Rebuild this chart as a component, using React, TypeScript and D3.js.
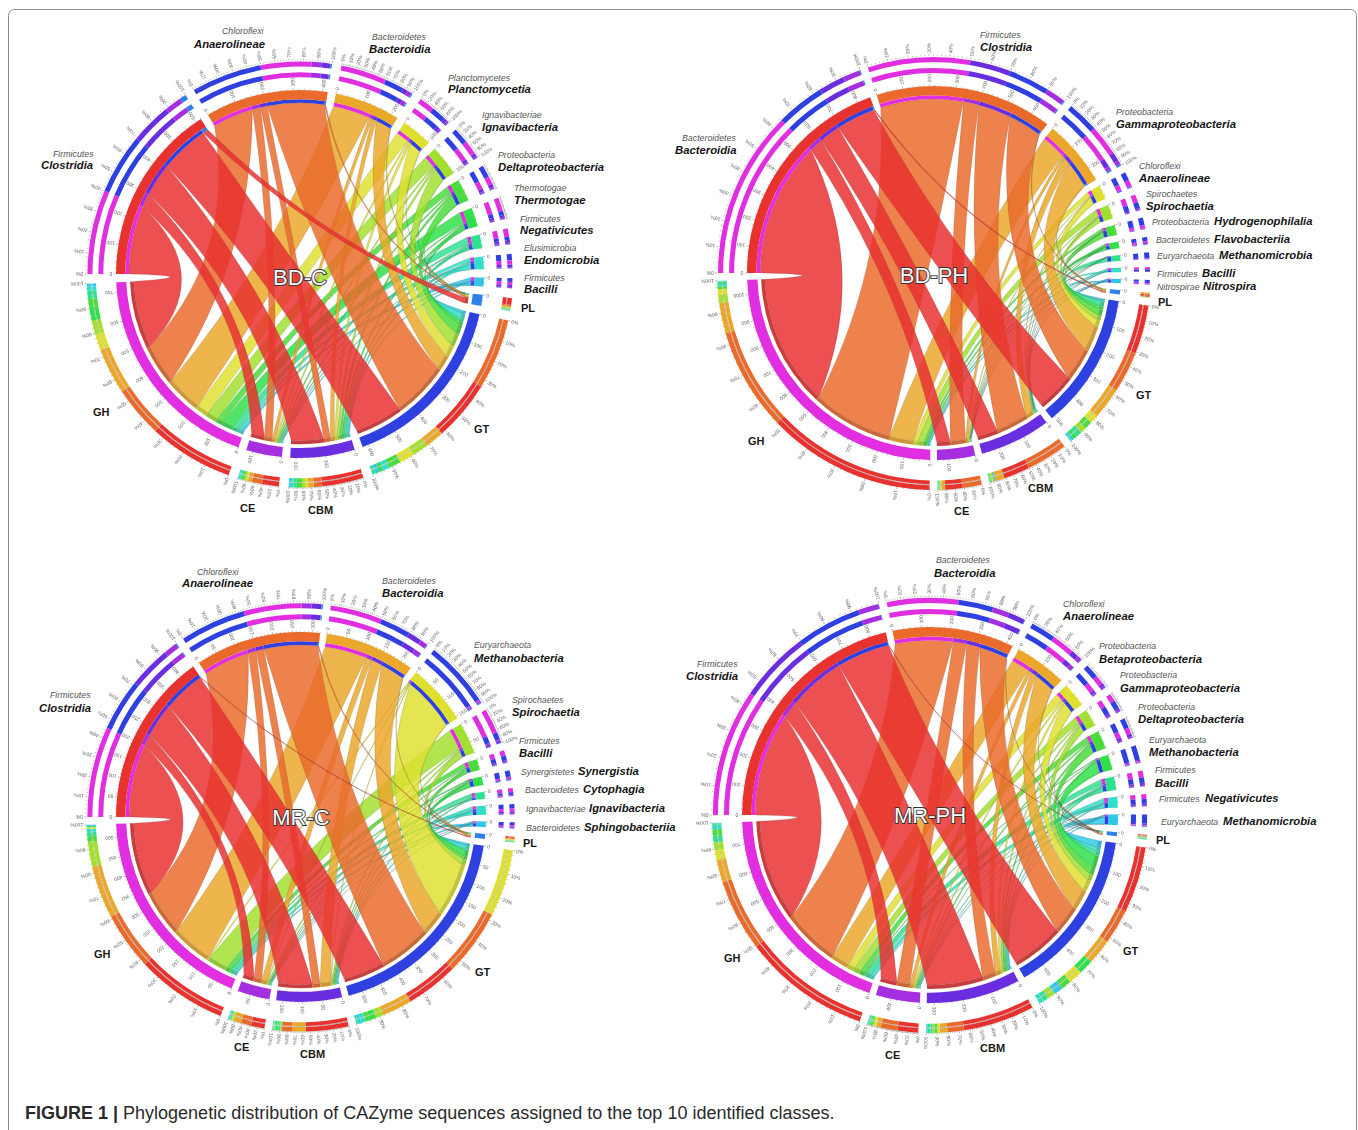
import React from "react";
import * as d3 from "d3";

const families = ["GH", "CE", "CBM", "GT", "PL"];
const palette = ["#e8302f","#e96a2b","#eba72a","#dfe02e","#a2e02e","#48dc3a","#2fe048","#2fe090","#2fe0c8","#2fc8e8","#2f80e8","#2f3fe0","#6a2fe0","#a52fe0","#e02fe0"];
const familyColorIndex = [14, 13, 12, 11, 10];

// BD-C
const bdcClasses = ["Clostridia","Anaerolineae","Bacteroidia","Planctomycetia","Ignavibacteria","Deltaproteobacteria","Thermotogae","Negativicutes","Endomicrobia","Bacilli"];
const bdcPhyla = ["Firmicutes","Chloroflexi","Bacteroidetes","Planctomycetes","Ignavibacteriae","Proteobacteria","Thermotogae","Firmicutes","Elusimicrobia","Firmicutes"];
const bdcMatrix = [[250,50,122,178,20],[150,30,25,208,5],[136,12,16,56,4],[46,6,9,44,2],[42,5,9,47,1],[24,5,9,36,2],[40,4,8,12,1],[24,4,8,10,1],[12,3,8,19,1],[9,3,6,11,1]];
// BD-PH
const bdpClasses = ["Bacteroidia","Clostridia","Gammaproteobacteria","Anaerolineae","Spirochaetia","Hydrogenophilalia","Flavobacteriia","Methanomicrobia","Bacilli","Nitrospira"];
const bdpPhyla = ["Bacteroidetes","Firmicutes","Proteobacteria","Chloroflexi","Spirochaetes","Proteobacteria","Bacteroidetes","Euryarchaeota","Firmicutes","Nitrospirae"];
const bdpMatrix = [[548,56,85,159,4],[336,63,134,134,4],[100,12,30,104,6],[18,3,3,28,1],[26,3,4,20,0],[9,2,2,25,0],[6,2,3,13,1],[2,1,1,18,0],[7,1,2,6,0],[3,1,5,7,0]];
// MR-C
const mrcClasses = ["Clostridia","Anaerolineae","Bacteroidia","Methanobacteria","Spirochaetia","Bacilli","Synergistia","Cytophagia","Ignavibacteria","Sphingobacteriia"];
const mrcPhyla = ["Firmicutes","Chloroflexi","Bacteroidetes","Euryarchaeota","Spirochaetes","Firmicutes","Synergistetes","Bacteroidetes","Ignavibacteriae","Bacteroidetes"];
const mrcMatrix = [[200,30,94,115,2],[127,22,22,146,3],[115,16,30,67,2],[3,2,2,147,2],[55,4,4,16,1],[12,2,3,10,1],[3,1,3,14,1],[9,2,3,4,0],[7,2,4,10,0],[3,1,2,7,1]];
// MR-PH
const mrpClasses = ["Clostridia","Bacteroidia","Anaerolineae","Betaproteobacteria","Gammaproteobacteria","Deltaproteobacteria","Methanobacteria","Bacilli","Negativicutes","Methanomicrobia"];
const mrpPhyla = ["Firmicutes","Bacteroidetes","Chloroflexi","Proteobacteria","Proteobacteria","Proteobacteria","Euryarchaeota","Firmicutes","Firmicutes","Euryarchaeota"];
const mrpMatrix = [[383,62,213,198,2],[215,50,50,105,2],[68,14,22,76,2],[28,6,8,42,1],[24,5,6,24,1],[19,5,8,30,1],[3,2,4,44,1],[20,4,6,16,1],[14,3,5,14,1],[2,2,4,27,2]];

// Layout of the labels, per panel: [phylum x, phylum y, class x, class y]
const bdcLabelPos = [[53,157,41,169],[222,34,194,48],[372,40,369,53],[448,81,448,93],[482,118,482,131],[498,158,498,171],[514,191,514,204],[520,222,520,234],[524,251,524,264],[524,281,524,293]];
const bdpLabelPos = [[682,141,675,154],[980,38,980,51],[1116,115,1116,128],[1139,169,1139,182],[1146,197,1146,210],[1152,225,1214,225],[1156,243,1214,243],[1157,259,1219,259],[1157,277,1202,277],[1157,290,1203,290]];
const mrcLabelPos = [[50,698,39,712],[197,575,182,587],[382,584,382,597],[474,648,474,662],[512,703,512,716],[519,744,519,757],[521,775,578,775],[525,793,583,793],[526,812,589,812],[526,831,584,831]];
const mrpLabelPos = [[697,667,686,680],[936,563,934,577],[1063,607,1063,620],[1099,649,1099,663],[1120,678,1120,692],[1138,710,1138,723],[1149,743,1149,756],[1155,773,1155,787],[1159,802,1205,802],[1161,825,1223,825]];
// GH, CE, CBM, GT, PL label anchors
const bdcFamPos = [[93,416],[240,512],[308,514],[474,433],[521,312]];
const bdpFamPos = [[748,445],[954,515],[1028,492],[1136,399],[1158,306]];
const mrcFamPos = [[94,958],[234,1051],[300,1058],[475,976],[523,847]];
const mrpFamPos = [[724,962],[885,1059],[980,1052],[1123,955],[1156,844]];

const panels = [
  { name:"BD-C", cx:300, cy:274, R:184, gap:2.6, step:100, textY:285, classes:bdcClasses, phyla:bdcPhyla, matrix:bdcMatrix, pos:bdcLabelPos, famPos:bdcFamPos },
  { name:"BD-PH", cx:934, cy:273, R:187, gap:2.1, step:100, textY:283, classes:bdpClasses, phyla:bdpPhyla, matrix:bdpMatrix, pos:bdpLabelPos, famPos:bdpFamPos },
  { name:"MR-C", cx:301, cy:817, R:185, gap:2.1, step:50, textY:825, classes:mrcClasses, phyla:mrcPhyla, matrix:mrcMatrix, pos:mrcLabelPos, famPos:mrcFamPos },
  { name:"MR-PH", cx:930, cy:815, R:188, gap:2.1, step:100, textY:823, classes:mrpClasses, phyla:mrpPhyla, matrix:mrpMatrix, pos:mrpLabelPos, famPos:mrpFamPos },
];

const rad = Math.PI / 180;
const font = "'Liberation Sans', Arial, sans-serif";

function ribbon(a0:number,a1:number,r0:number,b0:number,b1:number,r1:number){
  const p = d3.path();
  const pt = (a:number,r:number)=>[r*Math.sin(a),-r*Math.cos(a)];
  const edge = (from:number,rf:number,to:number,rt:number)=>{
    const [x1,y1]=pt(to,rt);
    const ux=Math.sin(from)+Math.sin(to),uy=-Math.cos(from)-Math.cos(to);
    const len=Math.hypot(ux,uy)||1;
    const half=len/2; // cos of half the angular separation
    const c=0.55*Math.min(rf,rt)*half;
    p.quadraticCurveTo(ux/len*c,uy/len*c,x1,y1);
  };
  const s=pt(a0,r0);
  p.moveTo(s[0],s[1]);
  p.arc(0,0,r0,a0-Math.PI/2,a1-Math.PI/2);
  edge(a1,r0,b0,r1);
  p.arc(0,0,r1,b0-Math.PI/2,b1-Math.PI/2);
  edge(b1,r1,a0,r0);
  p.closePath();
  return p.toString();
}

function Panel({ panel }: { panel: (typeof panels)[number] }) {
  const { cx, cy, R, gap, step, matrix, classes } = panel;
  const rowTotals = matrix.map(r => d3.sum(r));
  const colTotals = families.map((_, j) => d3.sum(matrix, r => r[j]));
  const order = [...classes.map((_, i) => ({ kind: "c", i, total: rowTotals[i] })),
    ...[4, 3, 2, 1, 0].map(j => ({ kind: "f", i: j, total: colTotals[j] }))];
  const k = (360 - order.length * gap) / d3.sum(order, d => d.total);
  let th = 0;
  const sectors = order.map((d, idx) => {
    const start = th; const end = th + d.total * k; th = end + gap;
    return { ...d, start, end, color: palette[idx], scale: d3.scaleLinear().domain([0, d.total]).range([start + 270, end + 270]) };
  });
  const arc = d3.arc<any>();
  const arcPath = (a0:number,a1:number,r0:number,r1:number)=>arc({startAngle:a0*rad,endAngle:a1*rad,innerRadius:r0*R,outerRadius:r1*R}) as string;
  const classSec = sectors.filter(s => s.kind === "c");
  const famSec = (j:number) => sectors.find(s => s.kind === "f" && s.i === j)!;

  const links:any[] = [];
  // on a family sector the classes run in reverse, the first class last
  const famPos = families.map((_,j)=>{
    const map:number[]=[]; let o=0;
    d3.range(9,-1,-1).forEach(i=>{map[i]=o;o+=matrix[i][j];});
    return map;
  });
  classSec.forEach(s=>{
    let o=0;
    families.forEach((_,j)=>{
      const v=matrix[s.i][j];
      const fs=famSec(j);
      links.push({i:s.i,j,v,a0:s.scale(o),a1:s.scale(o+v),b0:fs.scale(famPos[j][s.i]),b1:fs.scale(famPos[j][s.i]+v)});
      o+=v;
    });
  });

  return (
    <g>
      <g transform={`translate(${cx},${cy})`} filter="url(#soft)">
        {[...links].reverse().filter(l=>l.v>0).map((l,n)=>(
          <path key={n} d={ribbon(l.a0*rad,l.a1*rad,0.93*R,l.b0*rad,l.b1*rad,0.905*R)} fill={palette[l.i]} fillOpacity={0.84} stroke="#3a3a3a" strokeOpacity={0.38} strokeWidth={0.4}/>
        ))}
        {links.filter(l=>l.v>0).map((l,n)=>(
          <g key={n}>
            <path d={arcPath(l.a0,l.a1,0.93,0.95)} fill={palette[familyColorIndex[l.j]]}/>
            <path d={arcPath(l.b0,l.b1,0.905,0.925)} fill={d3.color(palette[l.i])!.darker(0.5).formatHex()} fillOpacity={0.9}/>
          </g>
        ))}
        {sectors.map((s,n)=>{
          const isF=s.kind==="f";
          const vals=isF?classes.map((_,i)=>({v:matrix[i][s.i],c:palette[i]})):families.map((_,j)=>({v:matrix[s.i][j],c:palette[familyColorIndex[j]]}));
          const sorted=vals.filter(d=>d.v>0).sort((a,b)=>d3.descending(a.v,b.v));
          const rings=isF?[[1.135,1.16],[1.11,1.13]]:[[1.128,1.155],[1.069,1.096]];
          const pctScale=d3.scaleLinear().domain([0,100]).range([s.start+270,s.end+270]);
          const span=s.end-s.start;
          let acc=0;
          const segs=sorted.map(d=>{const a=acc;acc+=d.v;return {...d,from:a,to:acc};});
          const sc=d3.scaleLinear().domain([0,s.total]).range([s.start+270,s.end+270]);
          const ticks=d3.range(0,s.total+1,step);
          const minor=d3.range(0,s.total+1,step/5);
          const pctMinor=span>=5?d3.range(0,101,span>=12?2:4):[];
          const pctLabels=span>=18?d3.range(0,101,10):span>=8?d3.range(0,101,20):[];
          return (
            <g key={n}>
              <path d={arcPath(s.start+270,s.end+270,isF?0.945:0.95,1)} fill={s.color}/>
              {minor.map(t=>{const a=sc(t);return <line key={t} x1={0} x2={0} y1={-R} y2={-R-(ticks.includes(t)?2.4:1.2)} transform={`rotate(${a})`} stroke="#555" strokeWidth={0.35}/>;})}
              {ticks.map(t=>{const a=sc(t);return <text key={t} transform={`rotate(${a-90}) translate(${1.02*R},0)`} fontSize={5} fill="#666" fontFamily={font} dominantBaseline="central">{t}</text>;})}
              {isF?<path d={arcPath(s.start+270,s.end+270,1.13,1.135)} fill="#b5b5b5"/>:null}
              {rings.map(([r0,r1],m)=>segs.map((g,q)=>(
                <path key={`${m}-${q}`} d={arcPath(sc(g.from),sc(g.to),r0,r1)} fill={g.c}/>
              )))}
              {pctMinor.map(t=>{const a=pctScale(t);return <line key={t} x1={0} x2={0} y1={-1.16*R} y2={-1.16*R-(t%10===0?2.2:1.2)} transform={`rotate(${a})`} stroke="#444" strokeWidth={0.35}/>;})}
              {pctLabels.map(t=>{const a=pctScale(t);return <text key={t} transform={`rotate(${a-90}) translate(${1.178*R},0)`} fontSize={5} fill="#666" fontFamily={font} dominantBaseline="central">{t}%</text>;})}
            </g>
          );
        })}
      </g>
      <text x={cx} y={panel.textY} textAnchor="middle" fontSize={22} fontFamily={font} fill="#f8f8f8" stroke="#333" strokeWidth={1.8} paintOrder="stroke">{panel.name}</text>
      {classes.map((c,i)=>{
        const [px,py,qx,qy]=panel.pos[i];
        return <g key={c}>
          <text x={px} y={py} fontSize={8.8} fontStyle="italic" fill="#555" fontFamily={font}>{panel.phyla[i]}</text>
          <text x={qx} y={qy} fontSize={11.3} fontStyle="italic" fontWeight="bold" fill="#161616" fontFamily={font}>{c}</text>
        </g>;
      })}
      {families.map((f,j)=>(
        <text key={f} x={panel.famPos[j][0]} y={panel.famPos[j][1]} fontSize={11} fontWeight="bold" fill="#1a1a1a" fontFamily={font}>{f}</text>
      ))}
    </g>
  );
}

export default function App() {
  return (
    <svg width={1358} height={1130} viewBox="0 0 1358 1130" style={{position:"absolute",left:0,top:0,background:"#fff"}}>
      <defs><filter id="soft" x="-10%" y="-10%" width="120%" height="120%"><feGaussianBlur stdDeviation="0.35"/></filter></defs>
      <rect x={8.5} y={9.5} width={1348} height={1160} rx={6} fill="#fff" stroke="#8a8a8a" strokeWidth={1}/>
      {panels.map(p=><Panel key={p.name} panel={p}/>)}
      <text x={25} y={1119} fontSize={18} fontFamily={font} fill="#2a2a2a"><tspan fontWeight="bold">FIGURE 1 | </tspan>Phylogenetic distribution of CAZyme sequences assigned to the top 10 identified classes.</text>
    </svg>
  );
}
